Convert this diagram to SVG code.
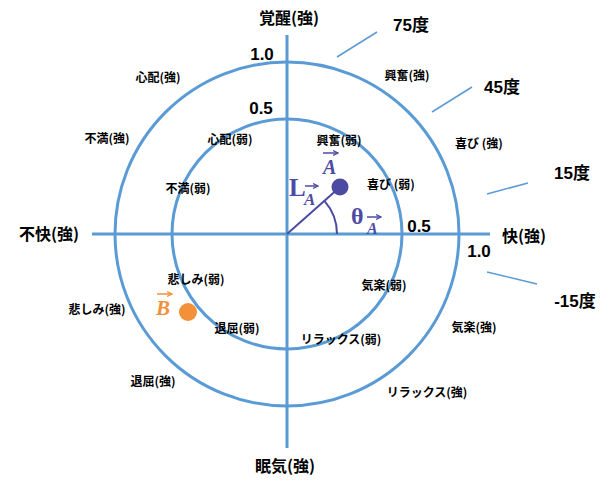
<svg xmlns="http://www.w3.org/2000/svg" width="608" height="483" viewBox="0 0 608 483">
<style>
.ax{stroke:#5B9BD5;stroke-width:3;fill:none}
.tk{stroke:#5B9BD5;stroke-width:1.5}
.big{font-family:"Noto Sans CJK JP",sans-serif;font-size:16px;font-weight:bold;fill:#000;text-anchor:middle}
.sm{font-family:"Noto Sans CJK JP",sans-serif;font-size:12px;font-weight:bold;fill:#000;text-anchor:middle}
.num{font-family:"Liberation Sans","Noto Sans CJK JP",sans-serif;font-size:17px;font-weight:bold;fill:#000;text-anchor:middle}
.vs{font-family:"Liberation Serif",serif;font-weight:bold;font-style:italic}
.pu{fill:#4B4BA3}
.or{fill:#F2913A}
.va{stroke-width:1.5;fill:none}
</style>
<defs>
<marker id="hp" markerWidth="6" markerHeight="6" refX="5" refY="3" orient="auto" markerUnits="userSpaceOnUse"><path d="M0,0.5 L5,3 L0,5.5" fill="none" stroke="#4B4BA3" stroke-width="1.2"/></marker>
<marker id="ho" markerWidth="6" markerHeight="6" refX="5" refY="3" orient="auto" markerUnits="userSpaceOnUse"><path d="M0,0.5 L5,3 L0,5.5" fill="none" stroke="#F2913A" stroke-width="1.2"/></marker>
</defs>
<rect width="608" height="483" fill="#fff"/>
<g id="axes">
<circle class="ax" cx="287" cy="234" r="172"/>
<circle class="ax" cx="287" cy="234" r="115"/>
<line class="ax" x1="287" y1="35" x2="287" y2="448"/>
<line class="ax" x1="92" y1="234" x2="490" y2="234"/>
</g>
<g id="connectors">
<line class="tk" x1="337" y1="57" x2="377" y2="32"/>
<line class="tk" x1="432" y1="112" x2="472" y2="87"/>
<line class="tk" x1="487" y1="194" x2="528" y2="183"/>
<line class="tk" x1="487" y1="272" x2="537" y2="284"/>
<line x1="287" y1="234" x2="340" y2="187" stroke="#4B4BA3" stroke-width="2"/>
<path d="M337,234 A50,50 0 0 0 324.4,200.8" fill="none" stroke="#4B4BA3" stroke-width="2"/>
</g>
<g id="scale-labels">
<text class="num" x="262" y="59.5">1.0</text>
<text class="num" x="261" y="113.5">0.5</text>
<text class="num" x="419" y="231.5">0.5</text>
<text class="num" x="479" y="256.5">1.0</text>
<text class="num" x="411" y="31">75度</text>
<text class="num" x="502" y="92.5">45度</text>
<text class="num" x="572" y="178.5">15度</text>
<text class="num" x="575" y="306.5">-15度</text>
</g>
<g id="axis-labels">
<text class="big" x="289" y="24">覚醒(強)</text>
<text class="big" x="49" y="239.5">不快(強)</text>
<text class="big" x="524" y="241.5">快(強)</text>
<text class="big" x="285" y="471.5">眠気(強)</text>
</g>
<g id="emotions">
<text class="sm" x="407" y="80">興奮(強)</text>
<text class="sm" x="158" y="82">心配(強)</text>
<text class="sm" x="107" y="143">不満(強)</text>
<text class="sm" x="230" y="144">心配(弱)</text>
<text class="sm" x="188" y="193">不満(弱)</text>
<text class="sm" x="339" y="145">興奮(弱)</text>
<text class="sm" x="479" y="148">喜び (強)</text>
<text class="sm" x="391" y="189">喜び (弱)</text>
<text class="sm" x="384" y="290">気楽(弱)</text>
<text class="sm" x="474" y="332">気楽(強)</text>
<text class="sm" x="341" y="344">リラックス(弱)</text>
<text class="sm" x="427" y="397">リラックス(強)</text>
<text class="sm" x="196" y="284">悲しみ(弱)</text>
<text class="sm" x="97" y="314">悲しみ(強)</text>
<text class="sm" x="237" y="333">退屈(弱)</text>
<text class="sm" x="153" y="386">退屈(強)</text>
</g>
<g id="vector-A">
<circle class="pu" cx="340" cy="187" r="8.5"/>
<text class="vs pu" x="323" y="174" font-size="20">A</text>
<line class="va" x1="323" y1="153" x2="338" y2="153" stroke="#4B4BA3" marker-end="url(#hp)"/>
<text class="pu" x="289" y="196" font-family="Liberation Serif,serif" font-weight="bold" font-size="25">L</text>
<text class="vs pu" x="304" y="205" font-size="17">A</text>
<line class="va" x1="305" y1="186" x2="318" y2="186" stroke="#4B4BA3" marker-end="url(#hp)"/>
<text class="pu" x="351" y="224" font-family="Liberation Serif,serif" font-weight="bold" font-size="24">θ</text>
<text class="vs pu" x="367" y="234" font-size="16">A</text>
<line class="va" x1="367" y1="217" x2="381" y2="217" stroke="#4B4BA3" marker-end="url(#hp)"/>
</g>
<g id="vector-B">
<circle class="or" cx="188" cy="312" r="9"/>
<text class="vs or" x="156" y="315" font-size="21">B</text>
<line class="va" x1="157" y1="294" x2="172" y2="294" stroke="#F2913A" marker-end="url(#ho)"/>
</g>
</svg>
